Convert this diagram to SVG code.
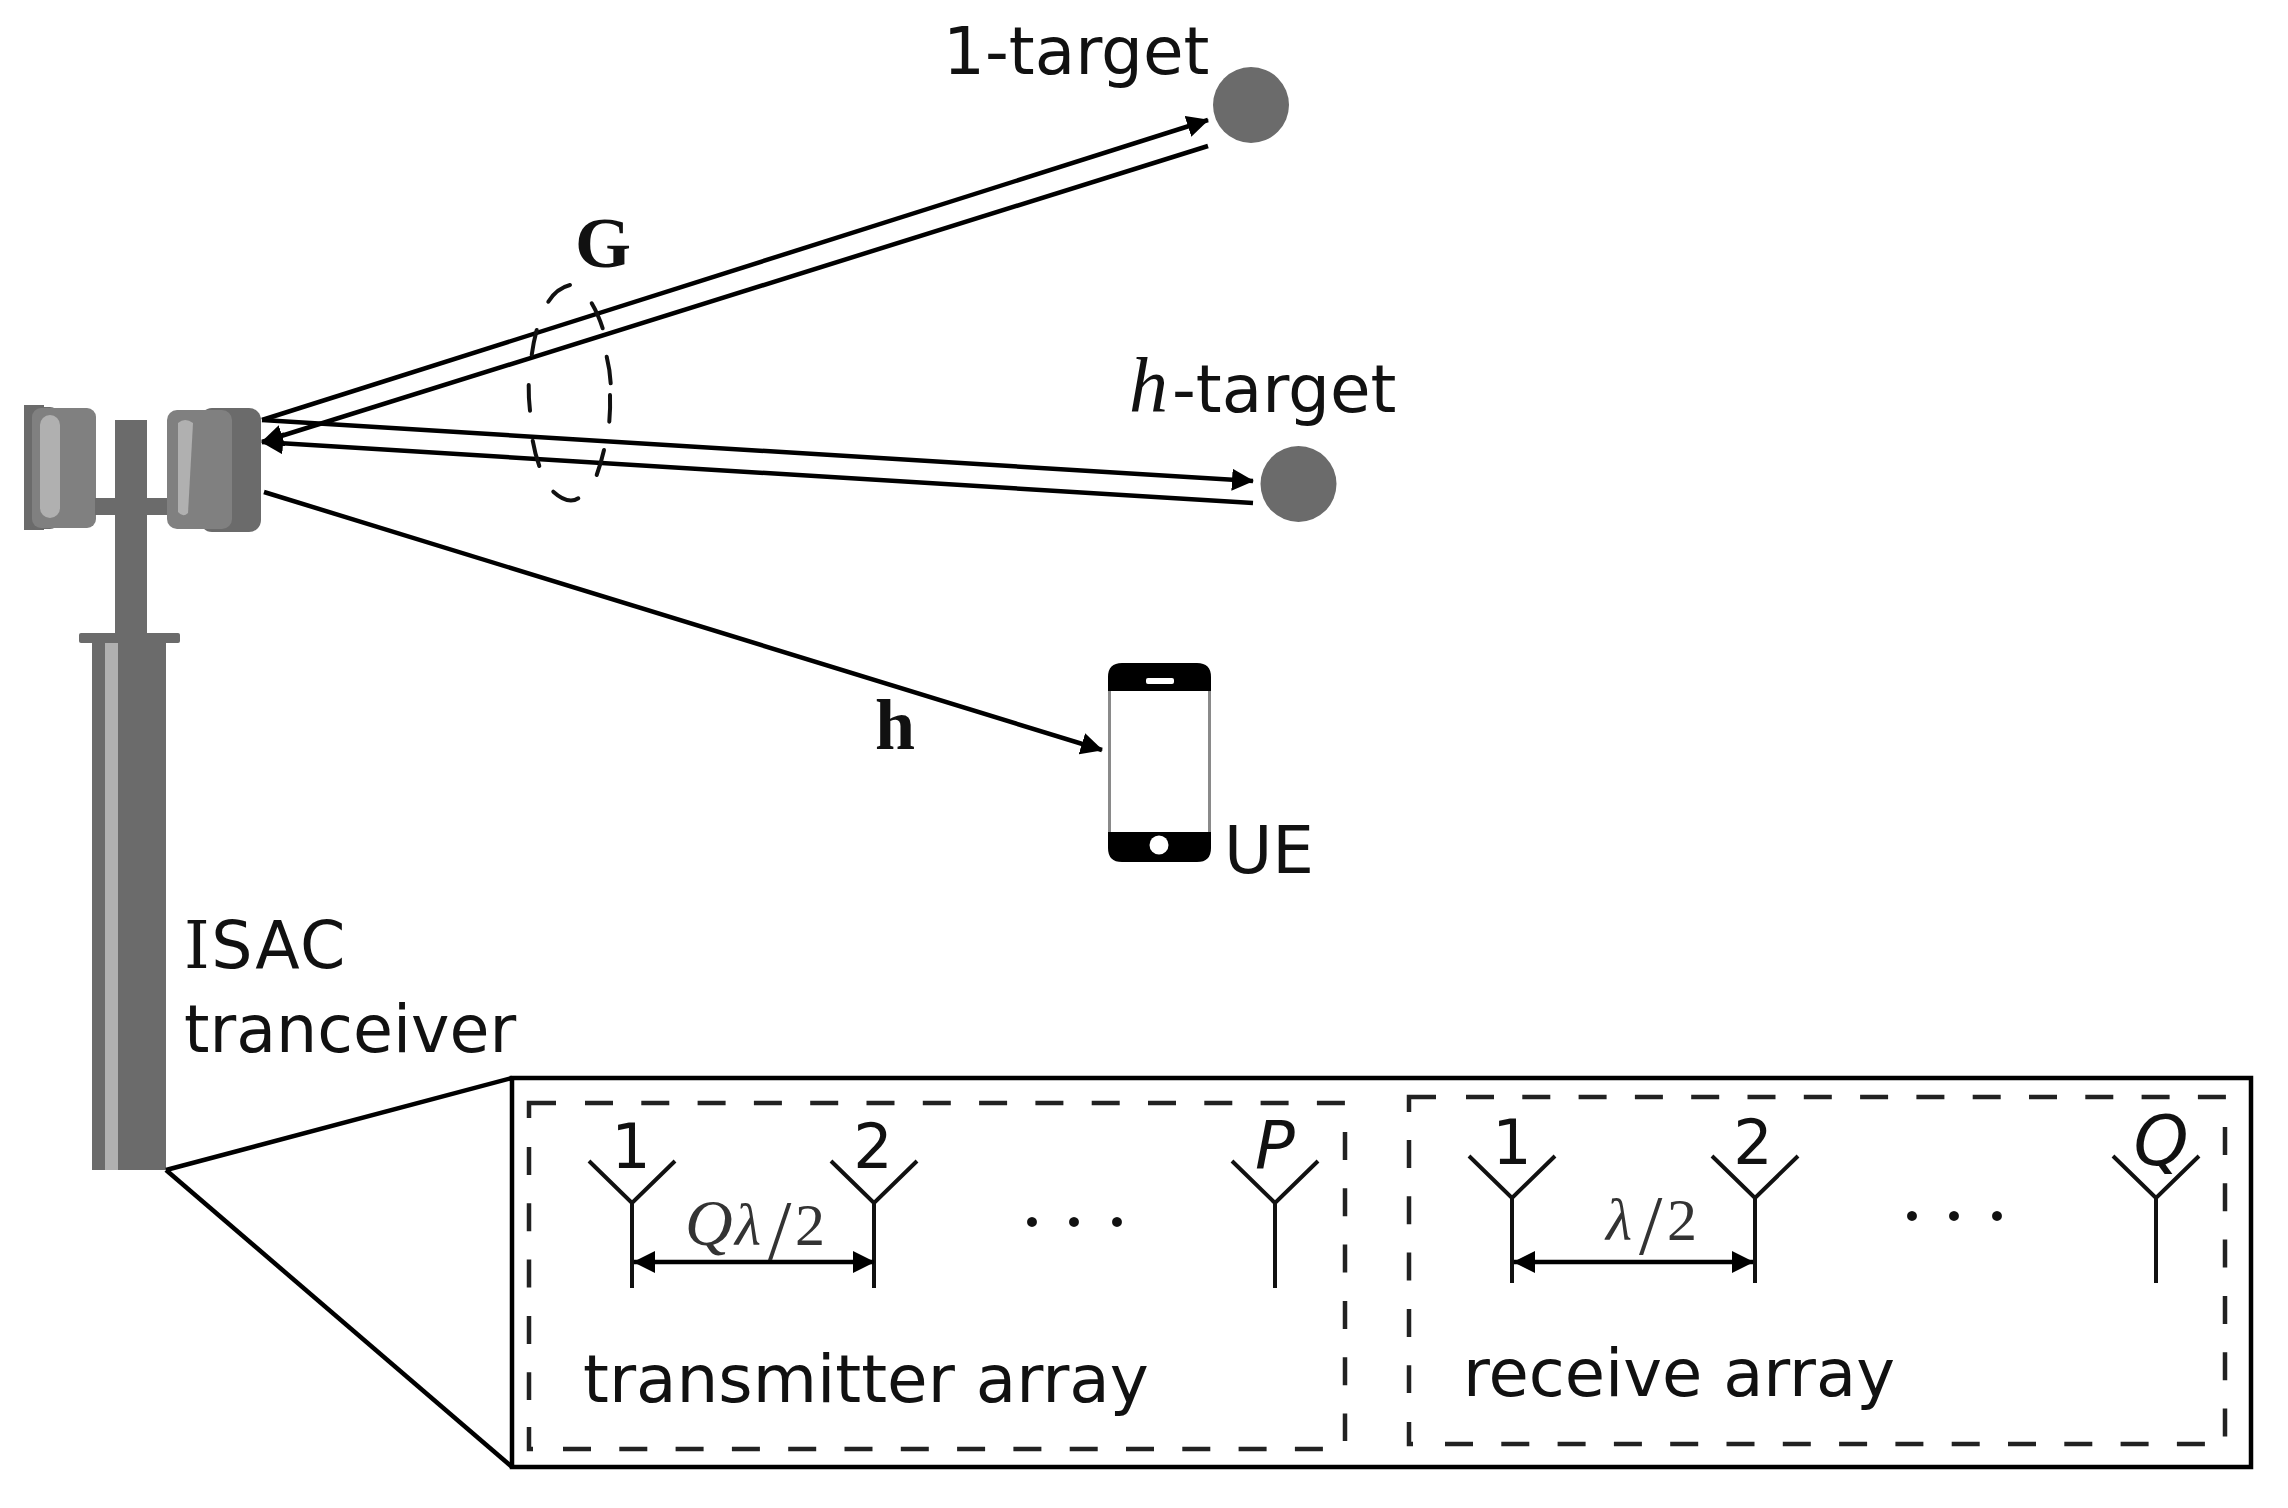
<svg xmlns="http://www.w3.org/2000/svg" width="2288" height="1508" viewBox="0 0 2288 1508">
<defs>
<marker id="arrow" viewBox="0 0 22 22" refX="21" refY="11" markerWidth="22" markerHeight="22" markerUnits="userSpaceOnUse" orient="auto-start-reverse"><polygon points="0,0 22,11 0,22" fill="#000"/></marker>
<g id="antenna"><path d="M-43,-42 L0,0 L43,-42 M0,0 V85" class="ant"/></g>
</defs>
<style>
text{font-family:"DejaVu Sans","Liberation Sans",sans-serif;fill:#111}
.lbl{font-size:65px}
.num{font-size:62px;text-anchor:middle}
.math{font-family:"Liberation Serif",serif;fill:#333}
.bold{font-family:"Liberation Serif",serif;font-weight:bold;font-size:72px}
.dk{fill:#6b6b6b}
.md{fill:#808080}
.lt{fill:#b0b0b0}
.link{stroke:#000;stroke-width:4.5;fill:none}
.ant{stroke:#111;stroke-width:4;fill:none}
.dash{stroke:#222;stroke-width:4.5;fill:none;stroke-dasharray:28 28.3}
.tick{stroke:#222;stroke-width:4.5;fill:none}
.dots{font-family:"Liberation Serif",serif;font-size:84px;text-anchor:middle}
</style>
<rect width="2288" height="1508" fill="#fff"/>

<g id="tower">
<rect class="dk" x="24" y="405" width="20" height="125"/>
<rect class="dk" x="28" y="407" width="30" height="122" rx="8"/>
<rect class="md" x="32" y="408" width="64" height="120" rx="9"/>
<rect class="lt" x="40" y="415" width="20" height="103" rx="10"/>
<rect class="dk" x="95" y="498" width="73" height="17"/>
<rect class="dk" x="115" y="420" width="32" height="216"/>
<rect class="dk" x="200" y="408" width="61" height="124" rx="12"/>
<rect class="md" x="167" y="410" width="65" height="119" rx="10"/>
<path class="lt" d="M178,423 Q185,417 193,423 L188,513 Q183,518 178,512 Z"/>
<rect class="dk" x="79" y="633" width="101" height="10" rx="2"/>
<rect class="dk" x="92" y="642" width="74" height="528"/>
<rect class="lt" x="105" y="643" width="13" height="527"/>
</g>
<g id="tower-label">
<text class="lbl" x="184" y="968" letter-spacing="1.5"><tspan font-family="DejaVu Serif">I</tspan>SAC</text>
<text class="lbl" x="184" y="1052">tranceiver</text>
</g>

<g id="target-1">
<circle class="dk" cx="1251" cy="105" r="38"/>
<text x="943" y="74" style="font-size:66px">1-target</text>
</g>
<g id="target-h">
<circle class="dk" cx="1298.5" cy="484" r="38"/>
<text x="1129" y="412" style="font-size:66px"><tspan font-family="Liberation Serif" font-style="italic" font-size="78">h</tspan><tspan x="1172">-target</tspan></text>
</g>
<g id="ue">
<path fill="#000" d="M1122,663 H1197 Q1211,663 1211,677 V691 H1108 V677 Q1108,663 1122,663 Z M1108,832 H1211 V848 Q1211,862 1197,862 H1122 Q1108,862 1108,848 Z"/>
<path d="M1109.5,691 V832 M1209.5,691 V832" fill="none" stroke="#8a8a8a" stroke-width="3"/>
<rect x="1146" y="678" width="28" height="6" rx="2" fill="#fff"/>
<circle cx="1159" cy="845" r="9.5" fill="#fff"/>
<text x="1224" y="873" style="font-size:66px">UE</text>
</g>

<g id="connectors">
<line class="link" x1="262" y1="420" x2="1208" y2="120" marker-end="url(#arrow)"/>
<line class="link" x1="1208" y1="146" x2="262" y2="442" marker-end="url(#arrow)"/>
<line class="link" x1="262" y1="420" x2="1253" y2="481" marker-end="url(#arrow)"/>
<line class="link" x1="1253" y1="503" x2="262" y2="442" marker-end="url(#arrow)"/>
<line class="link" x1="264" y1="492" x2="1102" y2="750" marker-end="url(#arrow)"/>
<line class="link" x1="166" y1="1170" x2="512" y2="1078"/>
<line class="link" x1="166" y1="1170" x2="512" y2="1467"/>
<path id="G-ellipse" stroke="#111" stroke-width="4" fill="none" stroke-linecap="round" d="M548.3,301.7 Q556.7,288.3 570,285 M591.7,303.3 Q598,314 602.7,328.3 M606.7,356.7 Q610,370 610.7,383.3 M610,395 Q610.5,408 609.3,421.7 M604,450 Q601,463 596.7,475 M578.3,498.3 Q568,505 553.3,491.7 M539.3,466 Q535,454 532.7,440.7 M530,410.7 Q528.5,398 528.7,385 M531.7,355 Q533.5,342 536.7,330"/>
</g>
<g id="label-G"><text class="bold" x="575" y="267">G</text></g>
<g id="label-h"><text class="bold" x="875" y="749">h</text></g>

<g id="array-frame"><rect x="512" y="1078" width="1739" height="389" fill="none" stroke="#000" stroke-width="4.5"/></g>

<g id="transmit-array">
<path class="tick" d="M529,1118 V1103 H556 M529,1427 V1449 H533"/>
<line class="dash" x1="585" y1="1103" x2="1347" y2="1103"/>
<line class="dash" x1="1345" y1="1132" x2="1345" y2="1441"/>
<line class="dash" x1="563" y1="1449" x2="1324" y2="1449"/>
<line class="dash" x1="529" y1="1147" x2="529" y2="1400"/>
<use href="#antenna" x="632" y="1203"/>
<use href="#antenna" x="874" y="1203"/>
<use href="#antenna" x="1275" y="1203"/>
<text class="num" x="631" y="1168">1</text>
<text class="num" x="873" y="1168">2</text>
<text class="num" x="1275" y="1168" font-style="italic" style="font-size:66px">P</text>
<line class="link" x1="634" y1="1262" x2="874" y2="1262" marker-start="url(#arrow)" marker-end="url(#arrow)"/>
<text class="math" font-size="60" y="1245"><tspan x="685" font-style="italic" font-size="66">Q</tspan><tspan x="735" font-style="italic">λ</tspan><tspan x="768" y="1259" font-size="84">/</tspan><tspan x="795" y="1245">2</tspan></text>
<text class="dots" x="1032 1074 1117" y="1250">···</text>
<text x="583" y="1402" style="font-size:66px">transmitter array</text>
</g>

<g id="receive-array">
<path class="tick" d="M1409,1112 V1097 H1436 M1409,1422 V1444 H1413"/>
<line class="dash" x1="1466" y1="1097" x2="2227" y2="1097"/>
<line class="dash" x1="2225" y1="1127" x2="2225" y2="1437"/>
<line class="dash" x1="1445" y1="1444" x2="2205" y2="1444"/>
<line class="dash" x1="1409" y1="1140" x2="1409" y2="1393"/>
<use href="#antenna" x="1512" y="1198"/>
<use href="#antenna" x="1755" y="1198"/>
<use href="#antenna" x="2156" y="1198"/>
<text class="num" x="1512" y="1164">1</text>
<text class="num" x="1753" y="1164">2</text>
<text class="num" x="2161" y="1165" font-style="italic" style="font-size:70px">Q</text>
<line class="link" x1="1514" y1="1262" x2="1753" y2="1262" marker-start="url(#arrow)" marker-end="url(#arrow)"/>
<text class="math" font-size="60" y="1240"><tspan x="1606" font-style="italic">λ</tspan><tspan x="1639" y="1254" font-size="84">/</tspan><tspan x="1667" y="1240">2</tspan></text>
<text class="dots" x="1912 1954 1997" y="1244">···</text>
<text x="1463" y="1396" style="font-size:65.5px">receive array</text>
</g>
</svg>
